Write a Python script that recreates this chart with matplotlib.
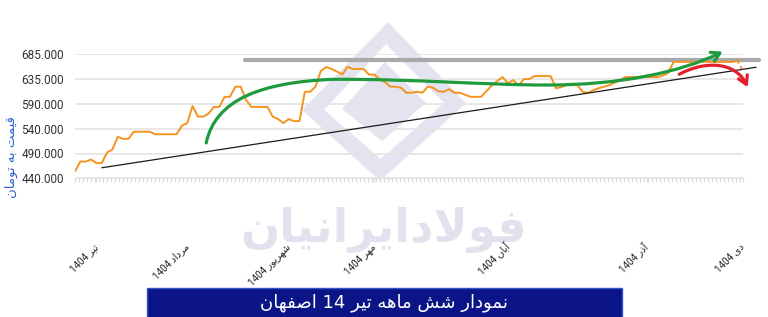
import matplotlib
matplotlib.use("Agg")
import matplotlib.pyplot as plt
import numpy as np
from matplotlib.path import Path
from matplotlib.patches import FancyArrowPatch, Polygon, Rectangle
from matplotlib.ticker import MultipleLocator

# ---------------- data ----------------
prices = [454, 473, 473, 477, 470, 470, 491, 497, 522, 518,
          518, 532, 532, 532, 532, 527, 527, 527, 527, 527,
          544, 549, 583, 562, 562, 568, 581, 581, 601, 601,
          621, 621, 595, 581, 581, 581, 581, 562, 557, 549,
          557, 553, 553, 611, 611, 621, 652, 660, 656, 651,
          645, 660, 656, 656, 656, 645, 645, 636, 630, 621,
          621, 619, 609, 609, 611, 609, 621, 619, 612, 611,
          616, 609, 609, 605, 601, 601, 601, 612, 624, 632,
          640, 628, 634, 624, 636, 636, 642, 642, 642, 642,
          618, 620, 624, 624, 624, 611, 609, 614, 618, 621,
          624, 629, 634, 640, 640, 640, 640, 640, 640, 640,
          643, 648, 670, 670, 670, 670, 670, 670, 670, 670,
          670, 670, 670, 670, 672, 652]  # thousand toman
month_positions = [4, 21, 40, 56, 81, 107, 125]
month_labels = ["تیر 1404", "مرداد 1404", "شهریور 1404", "مهر 1404",
                "آبان 1404", "آذر 1404", "دی 1404"]
y_ticks = [440, 489, 538, 587, 636, 685]
y_tick_labels = ["440.000", "490.000", "540.000", "590.000", "635.000", "685.000"]
y_label = "قیمت به تومان"
title = "نمودار شش ماهه تیر 14 اصفهان"
watermark = "فولادایرانیان"

# analyst drawings (index, value)
resistance = [(31.9, 674.5), (128.0, 674.5)]
trend = [(5.06, 460.9), (127.4, 659.3)]
green_curve = [(24.55, 509.8), (26.24, 594.8), (34.67, 629.8), (48.35, 635.6),
               (64.66, 636.2), (75.90, 624.3), (88.40, 624.3),
               (102.1, 624.3), (113.4, 650.0), (121.2, 690.2)]
red_curve = [(113.06, 645.5), (118.07, 673.8), (123.69, 669.8), (125.88, 619.8)]

# ---------------- simple Persian shaping ----------------
FORMS = {
    'ا': ('\uFE8D', '\uFE8E', None, None),
    'آ': ('\uFE81', '\uFE82', None, None),
    'ب': ('\uFE8F', '\uFE90', '\uFE91', '\uFE92'),
    'ت': ('\uFE95', '\uFE96', '\uFE97', '\uFE98'),
    'د': ('\uFEA9', '\uFEAA', None, None),
    'ذ': ('\uFEAB', '\uFEAC', None, None),
    'ر': ('\uFEAD', '\uFEAE', None, None),
    'ش': ('\uFEB5', '\uFEB6', '\uFEB7', '\uFEB8'),
    'ص': ('\uFEB9', '\uFEBA', '\uFEBB', '\uFEBC'),
    'ف': ('\uFED1', '\uFED2', '\uFED3', '\uFED4'),
    'ق': ('\uFED5', '\uFED6', '\uFED7', '\uFED8'),
    'ل': ('\uFEDD', '\uFEDE', '\uFEDF', '\uFEE0'),
    'م': ('\uFEE1', '\uFEE2', '\uFEE3', '\uFEE4'),
    'ن': ('\uFEE5', '\uFEE6', '\uFEE7', '\uFEE8'),
    'ه': ('\uFEE9', '\uFEEA', '\uFEEB', '\uFEEC'),
    'و': ('\uFEED', '\uFEEE', None, None),
    'ی': ('\uFEEF', '\uFEF0', '\uFEF3', '\uFEF4'),
}


def fa(text):
    out = []
    prev_joins = False
    i = 0
    n = len(text)
    while i < n:
        c = text[i]
        if c not in FORMS:
            out.append(c)
            prev_joins = False
            i += 1
            continue
        nxt = text[i + 1] if i + 1 < n else ''
        if c == 'ل' and nxt in ('ا', 'آ'):
            if nxt == 'ا':
                out.append('\uFEFC' if prev_joins else '\uFEFB')
            else:
                out.append('\uFEF6' if prev_joins else '\uFEF5')
            prev_joins = False
            i += 2
            continue
        iso, fin, ini, med = FORMS[c]
        next_is_letter = nxt in FORMS
        dual = ini is not None
        if prev_joins and next_is_letter and dual:
            g = med
        elif prev_joins:
            g = fin
        elif next_is_letter and dual:
            g = ini
        else:
            g = iso
        out.append(g)
        prev_joins = dual
        i += 1
    vis = out[::-1]
    res = []
    j = 0
    while j < len(vis):
        if vis[j].isdigit():
            k = j
            while k < len(vis) and (vis[k].isdigit() or vis[k] == '.'):
                k += 1
            res.extend(vis[j:k][::-1])
            j = k
        else:
            res.append(vis[j])
            j += 1
    return ''.join(res)


# ---------------- figure ----------------
W, H = 768, 317
fig = plt.figure(figsize=(W / 100, H / 100), dpi=100)
fig.patch.set_facecolor('white')


def fx(px):
    return px / W


def fy(py):
    return 1 - py / H


ax = fig.add_axes([fx(75), fy(178.3), fx(743) - fx(75), fy(54.3) - fy(178.3)])
ax.patch.set_visible(False)

# watermark logo (behind everything)
lav = '#e3e4f0'
outer = [(388, 22), (466, 103), (380, 181), (302, 110)]
mid = [(386, 44), (444, 103), (381, 159), (324, 110)]
inner = [(385, 62), (426, 103), (382, 141), (342, 109)]
fig.patches.append(Polygon([(fx(a), fy(b)) for a, b in outer], closed=True,
                           transform=fig.transFigure, facecolor=lav,
                           edgecolor='none', zorder=-2))
fig.patches.append(Polygon([(fx(a), fy(b)) for a, b in mid], closed=True,
                           transform=fig.transFigure, facecolor='white',
                           edgecolor='none', zorder=-1.9))
fig.patches.append(Polygon([(fx(a), fy(b)) for a, b in inner], closed=True,
                           transform=fig.transFigure, facecolor=lav,
                           edgecolor='none', zorder=-1.8))
fig.text(fx(383), fy(230), fa(watermark), fontsize=33, fontweight='bold',
         color='#e2e2ee', ha='center', va='center', family=['DejaVu Sans'],
         zorder=-1.5)

x = np.arange(len(prices))
ax.plot(x[:-1], prices[:-1], color='#f5931f', lw=1.4, zorder=3)
ax.plot(x[-2:], prices[-2:], color='#f5931f', lw=1.4, ls=(0, (1.5, 1.5)), zorder=3)

ax.set_xlim(0, len(prices) - 1)
ax.set_ylim(y_ticks[0], y_ticks[-1])
ax.set_yticks(y_ticks)
ax.set_yticklabels(y_tick_labels, fontsize=8.5, color='#333333', family=['Roboto'])
ax.tick_params(axis='y', length=0, pad=8)
ax.grid(axis='y', color='#e4e4e4', lw=1.2)
ax.set_axisbelow(True)
for s in ['top', 'right', 'left']:
    ax.spines[s].set_visible(False)
ax.spines['bottom'].set_color('#e4e4e4')
ax.spines['bottom'].set_linewidth(1.0)

ax.set_xticks(month_positions)
ax.set_xticklabels([fa(m) for m in month_labels], fontsize=7, color='#222222',
                   family=['Roboto', 'DejaVu Sans'])
ax.xaxis.set_minor_locator(MultipleLocator(0.75))
ax.tick_params(axis='x', which='minor', length=3, color='#d8d8d8', width=0.8)
ax.tick_params(axis='x', which='major', length=3, color='#d8d8d8', width=0.8, pad=45)
for lbl in ax.get_xticklabels():
    lbl.set_rotation(45)
    lbl.set_ha('right')
    lbl.set_va('center')
    lbl.set_rotation_mode('anchor')

# analyst drawings
ax.plot([p[0] for p in resistance], [p[1] for p in resistance], color='#a9a9a9',
        lw=3.0, solid_capstyle='round', clip_on=False, zorder=2.5)
ax.plot([p[0] for p in trend], [p[1] for p in trend], color='#1a1a1a', lw=0.9,
        clip_on=False, zorder=4)

gcodes = [Path.MOVETO] + [Path.CURVE4] * 9
ga = FancyArrowPatch(path=Path(green_curve, gcodes),
                     arrowstyle='->,head_length=6,head_width=3.5',
                     color='#1f9a3c', lw=2.3, shrinkA=0, shrinkB=0,
                     clip_on=False, zorder=5, capstyle='round')
ax.add_patch(ga)
rcodes = [Path.MOVETO] + [Path.CURVE4] * 3
ra = FancyArrowPatch(path=Path(red_curve, rcodes),
                     arrowstyle='->,head_length=6,head_width=3.5',
                     color='#e3202b', lw=2.3, shrinkA=0, shrinkB=0,
                     clip_on=False, zorder=5, capstyle='round')
ax.add_patch(ra)

# y label
fig.text(fx(11), fy(157), fa(y_label), rotation=90, color='#2c63d6', fontsize=9.5,
         ha='center', va='center', family=['DejaVu Sans'])

# title box
fig.patches.append(Rectangle((fx(146.7), fy(317.5)), fx(621.7) - fx(146.7),
                             fy(288.3) - fy(317.5), transform=fig.transFigure,
                             facecolor='#0b1587', edgecolor='#3355cc', lw=1.0,
                             zorder=1))
fig.text(fx(384), fy(302.5), fa(title), color='white', fontsize=13,
         ha='center', va='center', family=['DejaVu Sans'], zorder=2)

fig.savefig('out.png', dpi=100)
